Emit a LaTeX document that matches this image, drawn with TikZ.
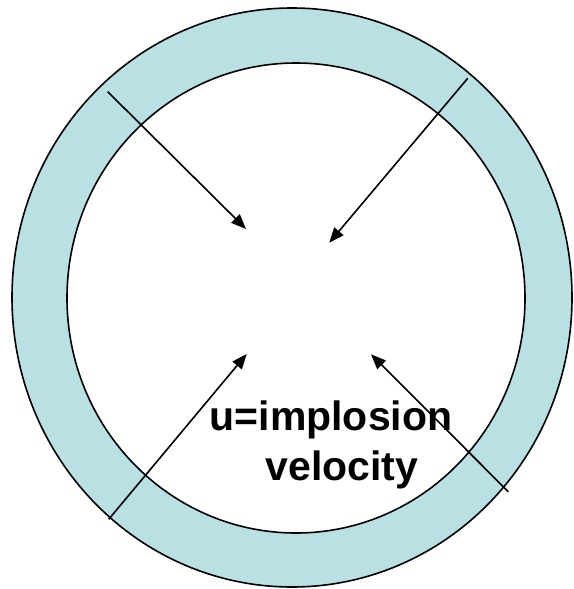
\documentclass[tikz,border=0pt]{standalone}
\usepackage{fontspec}
\setmainfont{Liberation Sans}
\usetikzlibrary{arrows.meta}
\definecolor{ringblue}{HTML}{B9E0E3}
\tikzset{
  ring/.style={draw=black, line width=1.6pt},
  vel/.style={draw=black, line width=1.6pt, -{Triangle[length=15pt,width=12pt]}},
  lbl/.style={inner sep=0pt, font=\fontsize{41}{50}\selectfont\bfseries, anchor=base}
}
\begin{document}
\begin{tikzpicture}[x=1pt,y=-1pt]
\useasboundingbox (0,0) rectangle (573,589);
\fill[ringblue, even odd rule] (292,297.5) ellipse [x radius=280, y radius=289.5]
  (296,298) ellipse [x radius=229, y radius=235];
\draw[ring] (292,297.5) ellipse [x radius=280, y radius=289.5];
\draw[ring] (296,298) ellipse [x radius=229, y radius=235];
\coordinate (s1) at (107.7,91.7);  \coordinate (t1) at (246,229);
\coordinate (s2) at (467.7,78.3);  \coordinate (t2) at (329.3,242.7);
\coordinate (s3) at (108.7,519.3); \coordinate (t3) at (246.7,354);
\coordinate (s4) at (508.3,491.7); \coordinate (t4) at (371,354.3);
\draw[vel] (s1) -- (t1);
\draw[vel] (s2) -- (t2);
\draw[vel] (s3) -- (t3);
\draw[vel] (s4) -- (t4);
\node[lbl] (l1) at (331,430) {u=implosion};
\node[lbl] (l2) at (342,480) {velocity};
\end{tikzpicture}
\end{document}
